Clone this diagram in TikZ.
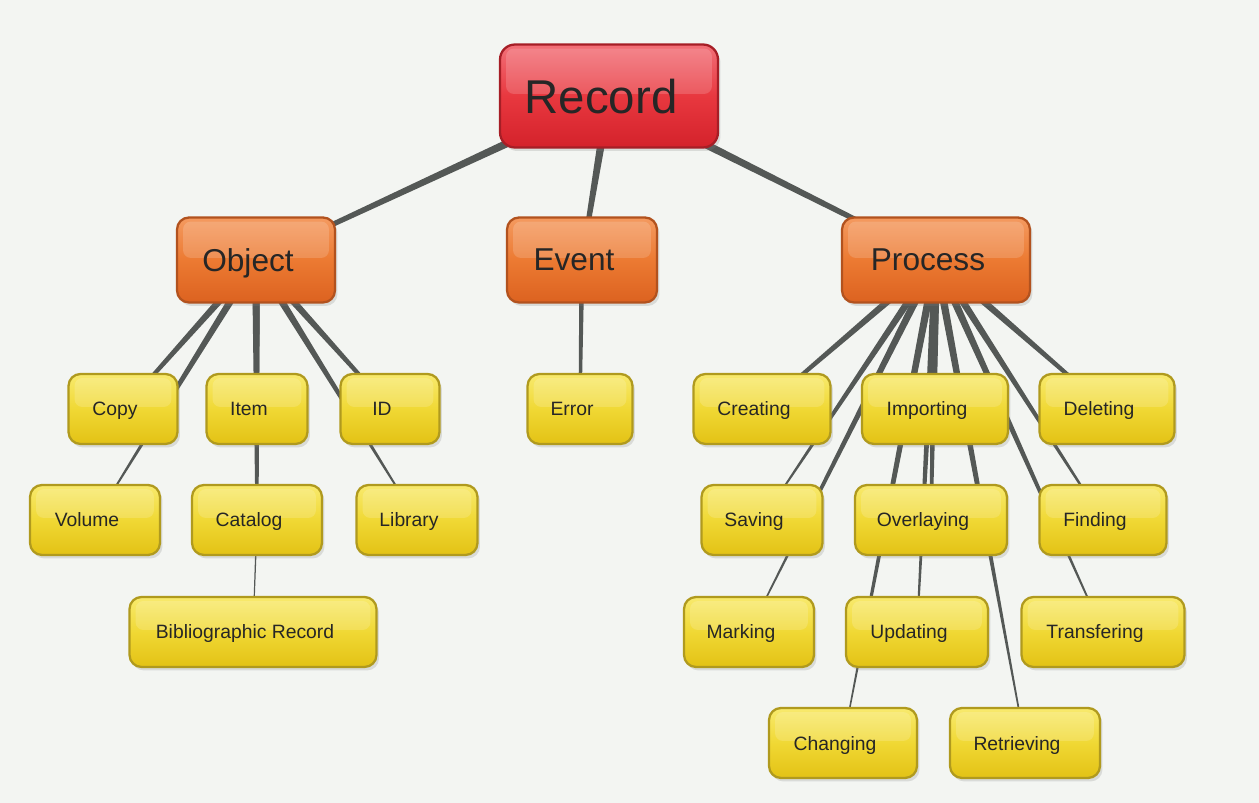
\documentclass[tikz,border=0pt]{standalone}
\usepackage{fontspec}
\setmainfont{Liberation Sans}
\usetikzlibrary{calc,shadows,backgrounds}
\definecolor{fondo}{HTML}{F3F5F2}
\definecolor{linea}{HTML}{545856}
\definecolor{amarilloA}{HTML}{F8EA6E}
\definecolor{amarilloM}{HTML}{F0D834}
\definecolor{amarilloC}{HTML}{E3C215}
\definecolor{amarilloB}{HTML}{B09A1E}
\definecolor{naranjaA}{HTML}{F49A60}
\definecolor{naranjaM}{HTML}{EC7A32}
\definecolor{naranjaC}{HTML}{DC6220}
\definecolor{naranjaB}{HTML}{B2521E}
\definecolor{rojoA}{HTML}{F27078}
\definecolor{rojoM}{HTML}{E8383F}
\definecolor{rojoC}{HTML}{D4222B}
\definecolor{rojoB}{HTML}{A61E26}
\tikzset{
  caja/.style={draw, line width=1.3pt, rounded corners=0.24cm, minimum height=1.4cm,
    text=black!85, text depth=0pt, execute at end node={\hspace*{0.32cm}},
    drop shadow={opacity=0.22, shadow xshift=0.05cm, shadow yshift=-0.07cm},
    path picture={\fill[white, opacity=0.16, rounded corners=0.16cm]
      ([xshift=0.12cm, yshift=-0.08cm]path picture bounding box.north west) rectangle
      ([xshift=-0.12cm, yshift=0.04cm]path picture bounding box.east);}},
  hoja/.style={caja, draw=amarilloB, top color=amarilloA, bottom color=amarilloC,
    middle color=amarilloM, font=\fontsize{11}{13}\selectfont},
  rama/.style={caja, draw=naranjaB, top color=naranjaA, bottom color=naranjaC,
    middle color=naranjaM, minimum height=1.7cm, font=\fontsize{18}{21}\selectfont},
  raiz/.style={caja, draw=rojoB, top color=rojoA, bottom color=rojoC,
    middle color=rojoM, minimum height=2.06cm, rounded corners=0.3cm,
    font=\fontsize{27}{30}\selectfont}
}
% conector que se afina del padre (#1) al hijo (#2), anchos en px
\newcommand{\enlace}[4]{%
  \pgfmathsetlengthmacro\anchoA{#3*0.01cm}%
  \pgfmathsetlengthmacro\anchoB{#4*0.01cm}%
  \fill[linea] ($(#1)!\anchoA!90:(#2)$) -- ($(#2)!\anchoB!-90:(#1)$)
    -- ($(#2)!\anchoB!90:(#1)$) -- ($(#1)!\anchoA!-90:(#2)$) -- cycle;}

\begin{document}
\begin{tikzpicture}[x=0.02cm, y=-0.02cm]
            \node[raiz, minimum width=4.36cm] (rec) at (609,96) {Record};

            \node[rama, minimum width=3.16cm] (obj) at (256,260) {Object};
            \node[rama, minimum width=3.0cm]  (eve) at (582,260) {Event};
            \node[rama, minimum width=3.76cm] (pro) at (936,260) {Process};

            \node[hoja, minimum width=2.18cm] (cop) at (123,409) {Copy};
            \node[hoja, minimum width=2.02cm] (ite) at (257,409) {Item};
            \node[hoja, minimum width=1.98cm] (idn) at (390,409) {ID};
            \node[hoja, minimum width=2.6cm]  (vol) at (95,520)  {Volume};
            \node[hoja, minimum width=2.6cm]  (cat) at (257,520) {Catalog};
            \node[hoja, minimum width=2.42cm] (lib) at (417,520) {Library};
            \node[hoja, minimum width=4.94cm] (bib) at (253,632) {Bibliographic Record};

            \node[hoja, minimum width=2.1cm]  (err) at (580,409) {Error};

            \node[hoja, minimum width=2.74cm] (cre) at (762,409)  {Creating};
            \node[hoja, minimum width=2.92cm] (imp) at (935,409)  {Importing};
            \node[hoja, minimum width=2.7cm]  (del) at (1107,409) {Deleting};
            \node[hoja, minimum width=2.42cm] (sav) at (762,520)  {Saving};
            \node[hoja, minimum width=3.04cm] (ove) at (931,520)  {Overlaying};
            \node[hoja, minimum width=2.54cm] (fin) at (1103,520) {Finding};
            \node[hoja, minimum width=2.6cm]  (mar) at (749,632)  {Marking};
            \node[hoja, minimum width=2.84cm] (upd) at (917,632)  {Updating};
            \node[hoja, minimum width=3.26cm] (tra) at (1103,632) {Transfering};
            \node[hoja, minimum width=2.96cm] (cha) at (843,743)  {Changing};
            \node[hoja, minimum width=3.0cm]  (ret) at (1025,743) {Retrieving};

            \begin{scope}[on background layer]
            \fill[fondo] (0,0) rectangle (1259,803);

            \enlace{rec}{obj}{9}{4}
            \enlace{rec}{eve}{9}{4}
            \enlace{rec}{pro}{9}{4}

            \enlace{obj}{cop}{8}{3}
            \enlace{obj}{vol}{8}{1}
            \enlace{obj}{ite}{8}{4}
            \enlace{obj}{cat}{8}{3}
            \enlace{obj}{idn}{8}{3}
            \enlace{obj}{lib}{8}{1}
            \enlace{cat}{bib}{1.5}{1}

            \enlace{eve}{err}{5}{3}

            \foreach \h/\a/\b in {cre/8/3, sav/8/1, mar/8/1, imp/8/3, ove/8/3,
                upd/8/1.5, cha/8/1, ret/8/1.2, del/8/3, fin/8/1.5, tra/8/1.2}
              {\enlace{pro}{\h}{\a}{\b}}
            \end{scope}
        \end{tikzpicture}
\end{document}
